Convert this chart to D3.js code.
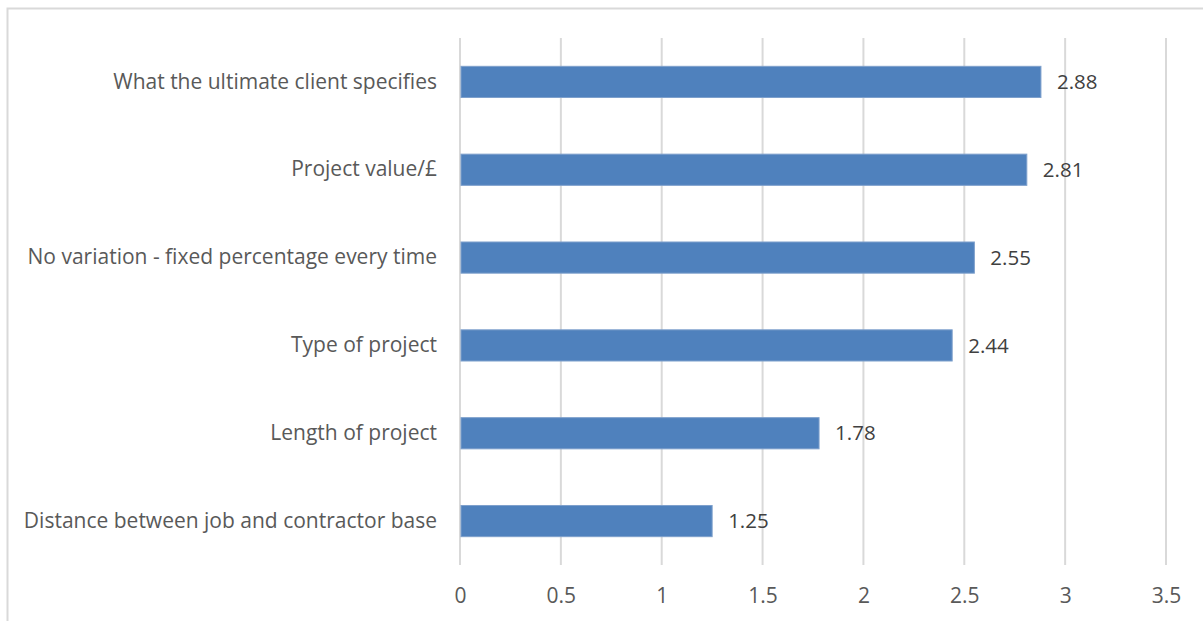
<!DOCTYPE html>
<html>
<head>
<meta charset="utf-8">
<script src="https://cdn.jsdelivr.net/npm/d3@7"></script>
<style>
  body { margin: 0; background: #fff; }
  text { font-family: "Open Sans", "Noto Sans", sans-serif; }
</style>
</head>
<body>
<div id="chart"></div>
<script>
// categories top to bottom, and their scores
var categories = [
	"What the ultimate client specifies",
	"Project value/\u00a3",
	"No variation - fixed percentage every time",
	"Type of project",
	"Length of project",
	"Distance between job and contractor base"
];
var values = [2.88, 2.81, 2.55, 2.44, 1.78, 1.25];
var tickValues = [0, 0.5, 1, 1.5, 2, 2.5, 3, 3.5];

var width = 1203, height = 621;
var plotLeft = 460, plotRight = 1166, plotTop = 38, plotBottom = 565;

var svg = d3.select("#chart")
	.append("svg")
	.attr("width", width)
	.attr("height", height);

// outer chart border (runs off the right and bottom edges)
svg.append("rect")
	.attr("x", 7.5).attr("y", 8.5)
	.attr("width", width + 10).attr("height", height + 10)
	.style("fill", "none")
	.style("stroke", "#d9d9d9")
	.style("stroke-width", 2);

var x = d3.scaleLinear().domain([0, 3.5]).range([plotLeft, plotRight]);
var y = d3.scaleBand().domain(categories).range([plotTop, plotBottom]).paddingInner(0.645).paddingOuter(0.3225);

// vertical gridlines
svg.selectAll(".grid")
	.data(tickValues)
	.enter().append("line")
	.attr("class", "grid")
	.attr("x1", function(d) { return x(d); })
	.attr("x2", function(d) { return x(d); })
	.attr("y1", plotTop)
	.attr("y2", plotBottom)
	.style("stroke", "#d9d9d9")
	.style("stroke-width", 2);

// bars
svg.selectAll(".bar")
	.data(values)
	.enter().append("rect")
	.attr("class", "bar")
	.attr("x", x(0) + 1)
	.attr("y", function(d, i) { return y(categories[i]); })
	.attr("width", function(d) { return x(d) - x(0) - 1; })
	.attr("height", y.bandwidth())
	.style("fill", "#4f81bd")
	.style("stroke", "#7ea0cc")
	.style("stroke-width", 1);

// value labels
svg.selectAll(".val")
	.data(values)
	.enter().append("text")
	.attr("class", "val")
	.attr("x", function(d) { return x(d) + 16; })
	.attr("y", function(d, i) { return y(categories[i]) + y.bandwidth() / 2; })
	.attr("dy", "0.35em")
	.style("font-size", "20.5px")
	.style("fill", "#404040")
	.text(function(d) { return d; });

// category labels
var yAxis = d3.axisLeft(y).tickSize(0).tickPadding(23);
var ya = svg.append("g").attr("transform", "translate(" + plotLeft + ",0)").call(yAxis);
ya.select(".domain").remove();
ya.selectAll("text").style("font-size", "21px").style("fill", "#595959")
	.style("font-family", "'Open Sans', 'Noto Sans', sans-serif");

// x axis tick labels
var xAxis = d3.axisBottom(x).tickValues(tickValues).tickSize(0).tickPadding(23)
	.tickFormat(function(d) { return d; });
var xa = svg.append("g").attr("transform", "translate(0," + plotBottom + ")").call(xAxis);
xa.select(".domain").remove();
xa.selectAll("text").style("font-size", "21px").style("fill", "#595959")
	.style("font-family", "'Open Sans', 'Noto Sans', sans-serif");
</script>
</body>
</html>
